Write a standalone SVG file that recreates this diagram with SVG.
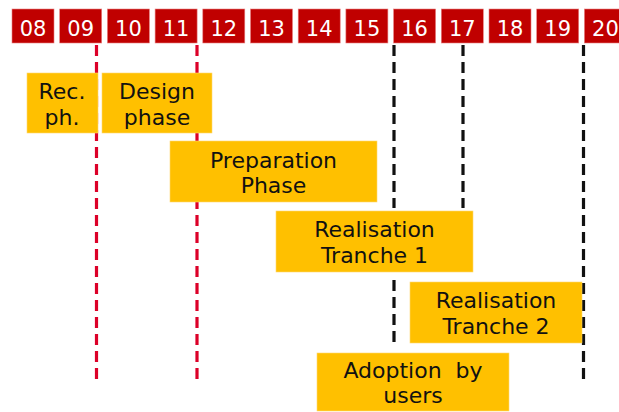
<svg xmlns="http://www.w3.org/2000/svg" width="619" height="412" viewBox="0 0 619 412">
<style>
.yr{fill:#c00000;stroke:#e88080;stroke-width:0.6}
.yt{font-family:"DejaVu Sans",Verdana,sans-serif;font-size:21px;fill:#fff;text-anchor:middle}
.ph{fill:#ffc000;stroke:#ffd870;stroke-width:0.6}
.pt{font-family:"DejaVu Sans",Verdana,sans-serif;font-size:22px;fill:#111;text-anchor:middle}
.red{stroke:#dc0028;stroke-width:3.2;stroke-dasharray:11 6;fill:none}
.blk{stroke:#111;stroke-width:3.2;stroke-dasharray:11 6;fill:none}
</style>
<rect width="619" height="412" fill="#fff"/>
<g id="years">
<g id="y08"><rect class="yr" x="12" y="9" width="42" height="34"/><text class="yt" x="33" y="35.5">08</text></g>
<g id="y09"><rect class="yr" x="59.7" y="9" width="42" height="34"/><text class="yt" x="80.7" y="35.5">09</text></g>
<g id="y10"><rect class="yr" x="107.4" y="9" width="42" height="34"/><text class="yt" x="128.4" y="35.5">10</text></g>
<g id="y11"><rect class="yr" x="155.1" y="9" width="42" height="34"/><text class="yt" x="176.1" y="35.5">11</text></g>
<g id="y12"><rect class="yr" x="202.8" y="9" width="42" height="34"/><text class="yt" x="223.8" y="35.5">12</text></g>
<g id="y13"><rect class="yr" x="250.5" y="9" width="42" height="34"/><text class="yt" x="271.5" y="35.5">13</text></g>
<g id="y14"><rect class="yr" x="298.2" y="9" width="42" height="34"/><text class="yt" x="319.2" y="35.5">14</text></g>
<g id="y15"><rect class="yr" x="345.9" y="9" width="42" height="34"/><text class="yt" x="366.9" y="35.5">15</text></g>
<g id="y16"><rect class="yr" x="393.6" y="9" width="42" height="34"/><text class="yt" x="414.6" y="35.5">16</text></g>
<g id="y17"><rect class="yr" x="441.3" y="9" width="42" height="34"/><text class="yt" x="462.3" y="35.5">17</text></g>
<g id="y18"><rect class="yr" x="489" y="9" width="42" height="34"/><text class="yt" x="510" y="35.5">18</text></g>
<g id="y19"><rect class="yr" x="536.7" y="9" width="42" height="34"/><text class="yt" x="557.7" y="35.5">19</text></g>
<g id="y20"><rect class="yr" x="584.4" y="9" width="42" height="34"/><text class="yt" x="605.4" y="35.5">20</text></g>
</g>
<g id="connectors">
<line class="red" x1="96.5" y1="45" x2="96.5" y2="380"/>
<line class="red" x1="197" y1="45" x2="197" y2="380"/>
<line class="blk" x1="394" y1="45" x2="394" y2="208"/>
<line class="blk" x1="394" y1="280" x2="394" y2="344"/>
<line class="blk" x1="463" y1="45" x2="463" y2="208"/>
<line class="blk" x1="583.5" y1="45" x2="583.5" y2="384"/>
</g>
<g id="rec"><rect class="ph" x="27" y="73" width="71" height="60"/><text class="pt" x="62" y="99">Rec.</text><text class="pt" x="62" y="125">ph.</text></g>
<g id="design"><rect class="ph" x="102" y="73" width="110" height="60"/><text class="pt" x="157" y="99">Design</text><text class="pt" x="157" y="125">phase</text></g>
<g id="preparation"><rect class="ph" x="170" y="141" width="207" height="61"/><text class="pt" x="273.5" y="168">Preparation</text><text class="pt" x="273.5" y="193">Phase</text></g>
<g id="tranche1"><rect class="ph" x="276" y="211" width="197" height="61"/><text class="pt" x="374.5" y="237">Realisation</text><text class="pt" x="374.5" y="263">Tranche 1</text></g>
<g id="tranche2"><rect class="ph" x="410" y="282" width="172" height="61"/><text class="pt" x="496" y="308">Realisation</text><text class="pt" x="496" y="334">Tranche 2</text></g>
<g id="adoption"><rect class="ph" x="317" y="353" width="192" height="58"/><text class="pt" x="413" y="378" xml:space="preserve">Adoption  by</text><text class="pt" x="413" y="403">users</text></g>
</svg>
